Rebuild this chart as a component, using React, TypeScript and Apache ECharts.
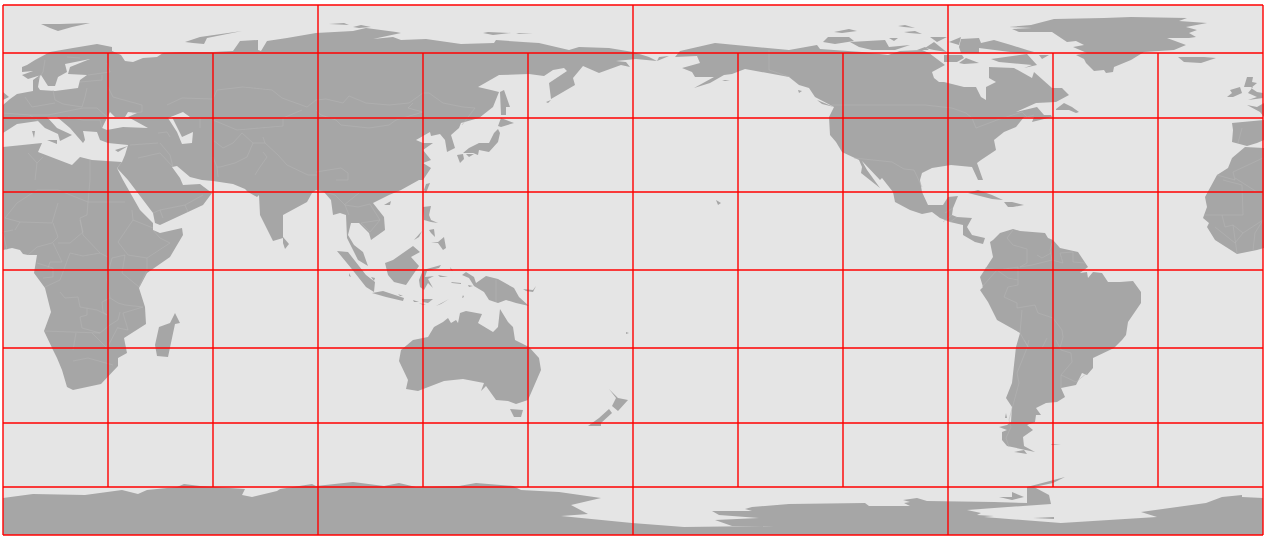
import React, { useEffect, useRef } from "react";
import * as echarts from "echarts";

const EURASIA = [3,105,10,99,17,94,33,91,33,80,40,75,38,87,40,90,55,91,78,88,80,80,87,75,68,74,70,67,90,59,65,64,67,72,58,77,55,86,48,86,41,75,28,79,22,75,33,71,22,72,22,67,27,65,35,60,50,52,73,48,97,44,112,47,112,51,121,55,125,61,133,62,143,58,157,57,163,53,183,52,213,52,233,51,240,41,258,40,258,50,261,51,267,41,287,38,316,33,353,31,366,28,396,32,401,33,373,39,393,37,401,40,426,39,461,44,494,43,496,40,523,42,539,43,569,50,579,47,609,48,633,52,649,57,657,61,659,57,669,56,657,61,636,59,616,61,626,62,630,67,621,65,599,73,583,66,573,78,575,85,551,99,549,83,567,71,564,68,553,70,544,76,529,74,499,75,478,87,491,90,499,92,493,107,479,118,461,123,459,128,451,135,455,148,447,152,445,140,440,134,431,136,430,132,416,140,423,143,433,143,423,150,431,160,423,163,431,168,423,180,419,180,401,190,389,195,373,203,384,217,385,230,371,240,369,233,359,223,351,223,348,235,354,245,363,252,368,266,358,260,352,248,347,238,346,215,340,213,333,215,331,200,324,192,316,190,312,193,307,202,283,215,283,238,273,241,260,215,259,195,257,197,248,192,245,189,233,184,213,181,202,180,190,177,177,166,172,167,180,178,183,185,200,184,212,193,203,205,188,212,160,225,155,223,153,213,128,180,117,168,122,162,125,155,128,145,108,143,100,140,97,132,83,131,85,140,83,143,70,128,57,117,47,117,57,128,70,134,72,135,60,141,58,134,45,128,38,121,17,124,3,133];
const AFRICA_EAST = [3,147,42,143,38,152,72,165,80,157,92,160,122,162,117,168,123,180,140,210,153,223,153,230,160,233,182,228,183,235,170,257,147,273,139,288,145,307,146,324,124,338,127,353,118,358,118,366,101,384,73,390,67,387,62,370,57,358,53,350,44,331,51,312,45,288,34,273,37,255,28,255,23,254,20,250,12,248,3,250];
const AFRICA_WEST = [1264,148,1245,147,1232,158,1228,168,1217,175,1205,197,1207,207,1203,218,1209,223,1207,227,1215,240,1237,254,1257,250,1264,248];
const IBERIA = [1232,123,1264,120,1264,140,1257,143,1247,146,1232,142,1233,130];
const FRANCE = [1247,105,1260,112,1264,117,1264,103,1257,107];
const BRITAIN = [1247,77,1253,77,1252,82,1257,83,1251,88,1257,92,1263,93,1263,98,1248,100,1257,97,1248,93,1253,87,1244,87];
const BRITAIN_EAST = [3,92,9,97,3,100];
const IRELAND = [1230,90,1240,87,1242,93,1233,97,1227,97,1232,93];
const NORTH_AMERICA = [680,51,715,43,789,50,817,45,820,49,862,52,888,55,900,51,922,50,929,53,945,65,932,72,934,78,939,82,944,82,964,87,976,87,981,97,986,100,986,87,996,82,989,78,989,67,1014,68,1032,78,1034,72,1052,88,1062,88,1069,95,1056,102,1036,103,1016,112,1037,107,1044,115,1051,115,1052,117,1032,122,1034,117,1024,117,1016,127,1004,132,994,140,996,150,981,160,977,163,983,180,978,180,972,167,951,165,932,168,922,173,920,180,922,192,928,205,943,205,948,197,958,196,953,208,952,215,957,217,972,218,967,227,972,235,985,238,983,244,975,242,963,235,963,225,950,222,940,218,932,212,922,214,910,210,895,202,893,192,882,178,880,180,862,161,867,170,880,188,861,173,862,167,859,160,842,152,836,142,830,135,829,117,834,107,815,97,809,88,799,85,789,77,745,69,732,74,724,75,710,83,694,88,714,77,695,77,692,72,682,68,700,63,697,56,675,57];
const SOUTH_AMERICA = [993,240,1000,233,1013,229,1020,231,1045,233,1048,238,1053,240,1060,248,1078,252,1088,267,1080,273,1087,272,1088,278,1093,272,1102,273,1108,282,1120,282,1133,281,1141,292,1141,303,1128,322,1126,335,1122,340,1114,348,1093,358,1093,368,1087,375,1082,373,1076,385,1061,388,1065,397,1057,402,1046,403,1036,408,1041,415,1036,415,1035,422,1027,425,1033,430,1023,437,1024,446,1035,452,1007,446,1002,440,1002,432,1007,430,999,427,1007,425,1011,422,1012,407,1006,398,1012,383,1016,347,1020,333,997,320,988,302,980,290,983,287,980,277,993,257,990,242];
const AUSTRALIA = [401,350,413,340,428,337,434,327,443,322,448,318,451,323,456,320,458,323,460,313,466,311,482,314,478,323,493,332,498,327,500,309,508,322,513,327,515,340,529,347,539,358,541,370,528,400,516,404,508,401,496,400,486,386,481,391,484,383,463,379,444,381,418,391,406,389,408,380,399,361];
const ANTARCTICA = [3,498,33,494,85,495,122,490,138,494,147,490,177,487,184,484,200,486,245,489,242,495,252,497,277,491,280,489,312,484,316,486,353,482,384,486,399,483,416,487,459,486,476,483,513,486,521,490,559,492,601,498,571,505,588,514,561,516,632,523,684,527,775,526,732,526,715,520,759,518,719,515,712,511,752,511,745,509,752,507,789,504,865,503,869,506,910,506,904,503,910,502,903,500,917,498,927,501,994,502,1027,503,1027,487,1065,477,1053,483,1034,487,1049,495,1051,504,967,510,981,513,977,515,994,516,984,517,1061,523,1157,517,1141,512,1206,503,1222,497,1242,495,1242,497,1263,498,1263,535,3,535];
const GREENLAND = [1009,27,1031,25,1054,19,1104,18,1131,17,1187,18,1179,21,1207,23,1186,27,1197,30,1189,33,1196,37,1189,38,1167,38,1186,45,1174,50,1144,52,1131,60,1114,67,1113,72,1106,73,1104,70,1094,71,1086,63,1084,59,1076,55,1087,53,1073,47,1084,45,1076,41,1067,42,1052,32,1032,32,1019,32,1012,29,1032,28];
const ARCTIC_ISLES = [
  [41,24,60,24,90,23,72,27,58,31,50,28],[185,42,200,37,242,31,207,38,204,44,193,43],[329,24,344,23,349,25],[353,27,361,25,371,27,359,28],[483,33,488,32,511,33,493,35],[516,33,533,34,519,34],
  [823,42,828,37,849,37,854,41,835,44],[850,42,885,40,889,47,910,45,895,50,872,50,859,47],[834,32,849,29,857,31,842,33],[898,26,905,25,915,28,904,27],[904,32,915,31,922,34,909,33],[889,38,898,38,894,41],[917,50,925,47,929,50],[925,48,934,42,944,50,947,52,934,50],[930,37,947,37,937,42],[949,42,961,37,959,45],[961,39,979,38,981,43,994,40,1011,45,1027,50,1034,52,1019,53,979,48,979,53,961,53,959,47],[944,55,962,55,964,58,957,62,944,62],[959,63,966,58,979,63,964,64],[991,59,1027,54,1037,65,1024,68,1032,65,999,62],[1039,55,1049,55,1042,59],
  [1178,57,1189,57,1204,57,1216,58,1201,63,1184,62],[1056,109,1064,103,1072,107,1079,112,1076,113,1069,110,1056,110],
];
const ASIA_ISLES = [
  [500,92,504,90,510,107,506,107,506,115,501,115],[546,102,551,100,548,103],[501,118,514,123,501,127,498,126],[498,129,500,133,498,142,489,152,479,150,478,155,473,153,463,153,469,148,479,143,489,143,494,133],[457,155,463,154,464,159,460,163],[466,154,474,154,469,157],[426,184,430,183,426,193,424,190],[384,205,391,201,390,205],
  [423,207,431,206,429,215,431,220,438,223,431,222,424,220],[429,230,434,229,435,237,431,233],[431,243,438,242,444,237,446,248,443,250,438,243],[414,240,422,231,419,237],[385,263,393,260,413,246,420,252,411,257,419,266,406,285,394,282,388,275],[337,251,348,252,366,275,375,282,374,292,366,287,351,268],[371,277,375,278,374,281],[349,273,351,277,349,276],[372,293,383,291,404,298,403,301,386,297],[398,294,403,296,400,296],[413,300,419,302,414,302],[422,299,433,299,428,303,423,302],[419,303,426,305,423,305],[436,306,449,299,441,304],
  [423,270,441,265,439,268,427,271,425,277,434,276,428,279,433,288,428,283,424,290,420,287,419,280],[451,282,461,283,461,284,452,283],[450,267,453,271,451,270],[438,275,448,277,440,277],[468,285,473,286,469,287],[463,295,464,297,462,298],[462,275,466,272,474,277,476,283,486,276,498,279,514,288,519,297,529,306,516,303,506,300,498,303,489,300,484,292,474,286,469,278],[523,289,533,290,536,286,533,292,526,291],
  [283,237,289,244,285,249,283,243],[32,131,35,131,34,138],[47,140,57,140,57,144],[115,150,128,146,118,152],
];
const SOUTHERN_ISLES = [
  [175,313,180,323,175,324,168,357,157,356,155,345,159,327,170,323],[510,409,523,410,521,417,514,417],[609,389,618,398,628,400,618,411,612,406,616,398],[609,409,612,413,601,423,601,426,588,426,599,418],[626,332,629,333,626,334],[716,200,721,203,718,205],
  [722,80,730,80,725,81],[817,100,834,107,822,104],[798,90,802,91,799,93],[968,193,978,190,992,195,1003,200,992,199],[1004,202,1012,202,1024,205,1013,207,1008,207],[1014,452,1024,450,1027,454,1021,453],[1006,413,1007,418,1005,418],[1051,444,1061,444,1052,445],[999,497,1012,497,1012,492,1024,497,1012,500],[1033,518,1054,517,1054,519],
];
const INLAND_SEAS = [
  [102,128,107,118,110,112,115,117,125,117,128,112,137,113,128,117,148,128,123,127,107,130],
  [168,118,183,112,190,117,172,117,182,137,193,132,192,143,182,144,177,132],
];
const BORDERS = [
  [167,105,182,98,213,99,217,90,243,87,272,90,282,98,307,107,316,100,326,99,343,103,349,96,366,103,389,105,409,103,423,93,429,93,443,103,463,107,475,108,462,125],
  [336,120,341,125,369,128,389,125,396,120,423,112,408,108,413,103],[316,110,321,115,336,120],[213,120,237,130,283,126,283,118,302,110],[200,118,200,128],[213,120,213,140,223,148,233,143,242,133,253,143,265,143,263,137],[253,143,247,157,235,163,220,167,217,167,213,157],[217,167,218,177],[263,152,267,157,260,167,255,175],[265,143,278,155,287,165,308,175,317,175],[138,158,160,153,173,167],[130,145,158,143],[158,133,167,132,170,137],[160,143,170,155,173,167],[113,97,142,105,142,112,132,113],[108,87,113,97],[87,88,85,97,82,107,63,104,55,100,53,90],[25,97,32,107,55,103],[3,113,30,115,48,115,83,108],[30,115,38,121],[83,108,97,108,107,117],[68,117,83,120,100,120,102,128],[45,60,43,72,38,79],[67,57,80,58],[107,63,110,72,88,75],[80,82,102,80,102,75],
  [153,213,160,210,185,205,203,195],[160,210,163,218],[185,205,188,212],
  [17,203,37,190],[28,153,37,163,35,180],[37,163,43,157],[90,160,90,180,88,202,58,190,37,190],[88,202,87,215,80,218,83,235,100,253,108,257],[88,202,125,202],[153,228,133,220,118,242,128,255,147,258,170,243,160,238,153,230],[132,210,133,220],[147,258,147,270,139,287,122,273,125,255],[125,255,112,258,108,273,107,280,110,298],[110,298,118,303,125,305,143,307],[70,253,83,256,100,253],[70,253,60,280,45,287],[60,292,65,298,78,297,80,307,97,310,107,315],[87,308,87,315,80,317,82,328,100,333,110,325,118,320,120,312],[44,331,100,333],[76,333,73,350],[92,333,107,348,118,327],[73,361,88,358,113,365],[53,223,58,237,52,243,37,247,28,255],[52,223,20,222,15,230],[52,223,58,203],[58,243,70,243,83,232,80,220],[53,243,62,262,50,262,48,268],[37,263,53,268,53,277,43,278],[13,230,3,232,7,250],[17,203,5,218],[20,222,5,218],[110,298,102,302,103,312,107,315],[118,328,128,330,123,313,143,307],
  [1263,158,1233,172,1235,180,1217,175],[1235,178,1257,192],[1223,180,1242,185,1243,215,1222,215,1204,215],[1222,215,1225,227,1233,225,1237,253],[1215,227,1225,235,1235,243],[1243,233,1263,220,1255,233,1253,250],[1233,225,1243,233,1235,243],[1242,128,1238,143],
  [832,105,925,105,952,108,966,113,972,118,976,128,997,120,1022,112,1027,117,1034,115],[769,50,769,70,790,77],[854,158,892,162,904,169,914,170,922,187],[945,213,953,208],[943,222,952,215],[950,222,957,217],
  [1013,230,1007,238,1013,245,1027,249,1027,263,1020,267,1032,265,1052,260,1050,250,1052,243],[1037,255,1042,258,1051,253],[1052,260,1063,263,1060,253,1073,252,1073,262,1085,263],[982,287,997,270,1008,278,1018,280,1018,285,1008,287,1004,297,1017,303,1017,308,1035,305,1038,313,1053,318,1062,330,1063,337,1060,348],[1018,267,1018,280],[985,268,998,270,1018,267],[1022,310,1020,333,1028,347],[1047,338,1042,348],[1029,340,1027,348,1017,373,1019,383,1009,420,1011,427,1006,438,1009,447],[1024,340,1029,348,1054,348],[1056,340,1061,350,1071,353,1072,362,1061,375,1061,388],[1061,375,1076,382,1087,373],
  [496,280,496,302],[345,205,358,207,370,204,380,220,361,223,370,232,380,220],[345,205,349,215],[318,190,335,195,345,205],[316,172,341,168,348,173,348,180,336,180],[359,193,344,205],
];
const LAND = [EURASIA, AFRICA_EAST, AFRICA_WEST, IBERIA, FRANCE, BRITAIN, BRITAIN_EAST, IRELAND, NORTH_AMERICA, SOUTH_AMERICA, AUSTRALIA, ANTARCTICA, GREENLAND, ...ARCTIC_ISLES, ...ASIA_ISLES, ...SOUTHERN_ISLES];

// Graticule: meridians every 30 degrees; parallels at the tropics, 45 degrees, polar circles and poles.
const MERIDIANS = [0, 30, 60, 90, 120, 150, 180, 210, 240, 270, 300, 330, 360];
const FULL_MERIDIANS = [0, 90, 180, 270, 360];
const PARALLEL_ROWS = [5, 53, 118, 192, 270, 348, 423, 487, 535];
const POLAR_ROWS = [53, 487];

const EQUATOR_ROW = 270;
const WEST_COLUMN = 3;
const COLUMNS_PER_DEGREE = 3.5;
const toLon = (x: number) => (x - WEST_COLUMN) / COLUMNS_PER_DEGREE;
const toRow = (y: number) => EQUATOR_ROW - y;
const pairs = (flat: number[]) => {
  const out: number[][] = [];
  for (let i = 0; i + 1 < flat.length; i += 2) out.push([toLon(flat[i]), toRow(flat[i + 1])]);
  return out;
};

const SEA = "#e5e5e5";
const LAND_COLOR = "#a6a6a6";
const BORDER_COLOR = "#b6b6b6";
const GRID_RED = "#ff0000";

function shapeSeries(name: string, rings: number[][], kind: "polygon" | "polyline", color: string, z: number) {
  return {
    name,
    type: "custom",
    coordinateSystem: "cartesian2d",
    silent: true,
    z,
    data: rings.map((_, i) => [0, 0, i]),
    renderItem: (params: any, api: any) => {
      const points = pairs(rings[params.dataIndex]).map((p) => api.coord(p));
      return kind === "polygon"
        ? { type: "polygon", shape: { points }, style: { fill: color } }
        : { type: "polyline", shape: { points }, style: { stroke: color, lineWidth: 0.5, fill: "none" } };
    },
  };
}

function gridLine(name: string, data: number[][]) {
  return {
    name,
    type: "line",
    data,
    z: 5,
    silent: true,
    clip: false,
    symbol: "none",
    lineStyle: { color: GRID_RED, width: 1.4 },
  };
}

export default function App() {
  const ref = useRef<HTMLDivElement>(null);
  useEffect(() => {
    document.body.style.margin = "0";
    document.body.style.background = "#ffffff";
    const chart = echarts.init(ref.current!, undefined, { renderer: "svg" });
    const top = toRow(PARALLEL_ROWS[0]);
    const bottom = toRow(PARALLEL_ROWS[PARALLEL_ROWS.length - 1]);
    const polarTop = toRow(POLAR_ROWS[0]);
    const polarBottom = toRow(POLAR_ROWS[1]);
    chart.setOption({
      animation: false,
      grid: { left: 3, top: 5, width: 1260, height: 530, show: true, backgroundColor: SEA, borderWidth: 0 },
      xAxis: { type: "value", min: 0, max: 360, show: false },
      yAxis: { type: "value", min: bottom, max: top, show: false },
      series: [
        shapeSeries("land", LAND, "polygon", LAND_COLOR, 2),
        shapeSeries("inland seas", INLAND_SEAS, "polygon", SEA, 3),
        shapeSeries("borders", BORDERS, "polyline", BORDER_COLOR, 4),
        ...MERIDIANS.map((lon) =>
          FULL_MERIDIANS.includes(lon)
            ? gridLine(`meridian ${lon}`, [[lon, top], [lon, bottom]])
            : gridLine(`meridian ${lon}`, [[lon, polarTop], [lon, polarBottom]])
        ),
        ...PARALLEL_ROWS.map((row) => gridLine(`parallel ${row}`, [[0, toRow(row)], [360, toRow(row)]])),
      ],
    });
    return () => chart.dispose();
  }, []);
  return <div ref={ref} style={{ position: "absolute", left: 0, top: 0, width: 1264, height: 538 }} />;
}
